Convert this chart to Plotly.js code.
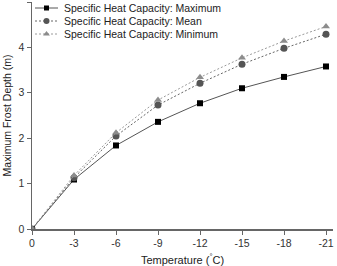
<!DOCTYPE html>
<html>
<head>
<meta charset="utf-8">
<script src="https://cdn.plot.ly/plotly-3.0.1.min.js"></script>
<style>
  html, body { margin: 0; padding: 0; background: #fff; }
  #chart { width: 337px; height: 266px; }
</style>
</head>
<body>
<div id="chart"></div>
<script>
// Temperature (°C) and maximum frost depth (m) for three specific heat capacity cases
const temperature = [0, -3, -6, -9, -12, -15, -18, -21];
const depthMaximum = [0, 1.09, 1.84, 2.36, 2.77, 3.10, 3.35, 3.58];
const depthMean    = [0, 1.13, 2.05, 2.73, 3.21, 3.63, 3.98, 4.29];
const depthMinimum = [0, 1.18, 2.12, 2.84, 3.34, 3.77, 4.14, 4.46];

const xTickVals = [0, -3, -6, -9, -12, -15, -18, -21];
const xTickText = ['0', '-3', '-6', '-9', '-12', '-15', '-18', '-21'];
const yTickVals = [0, 1, 2, 3, 4, 5];
const yTickText = ['0', '1', '2', '3', '4', '5'];

const seriesNames = [
  'Specific Heat Capacity: Maximum',
  'Specific Heat Capacity: Mean',
  'Specific Heat Capacity: Minimum'
];

const FONT = 'Liberation Sans, Arial, sans-serif';

// Per-series styling
const styles = [
  { line: { color: '#555555', width: 1, dash: 'solid' },   marker: { symbol: 'square', size: 6, color: '#000000' } },
  { line: { color: '#666666', width: 1, dash: '2px,2px' }, marker: { symbol: 'circle', size: 7, color: '#555555' } },
  { line: { color: '#9a9a9a', width: 1, dash: '2px,2px' }, marker: { symbol: 'triangle-up', size: 7, color: '#8c8c8c' } }
];
const seriesY = [depthMaximum, depthMean, depthMinimum];

const traces = seriesY.map((ys, i) => ({
  x: temperature, y: ys, name: seriesNames[i],
  mode: 'lines+markers', type: 'scatter',
  line: styles[i].line, marker: styles[i].marker,
  showlegend: false
}));

// Compact legend drawn on an overlay axis measured in pixels from the plot's top-left corner
const keyX0 = 3, keyX1 = 26, keyTextX = 30;
const keyRowY = [6, 19, 32];
const legendAnnotations = [];
seriesNames.forEach((name, i) => {
  traces.push({
    x: [keyX0, keyX1], y: [keyRowY[i], keyRowY[i]],
    xaxis: 'x2', yaxis: 'y2', mode: 'lines', type: 'scatter',
    line: styles[i].line, showlegend: false, hoverinfo: 'skip'
  });
  traces.push({
    x: [(keyX0 + keyX1) / 2], y: [keyRowY[i]],
    xaxis: 'x2', yaxis: 'y2', mode: 'markers', type: 'scatter',
    marker: Object.assign({}, styles[i].marker, { size: styles[i].marker.size - 1 }),
    showlegend: false, hoverinfo: 'skip'
  });
  legendAnnotations.push({
    xref: 'x2', yref: 'y2', x: keyTextX, y: keyRowY[i],
    xanchor: 'left', yanchor: 'middle', showarrow: false,
    text: name, font: { family: FONT, size: 10.5, color: '#222222' }
  });
});

const axisFont = { family: FONT, size: 10.5, color: '#333333' };

const layout = {
  width: 337, height: 266,
  margin: { l: 32, r: 4, t: 2, b: 37 },
  paper_bgcolor: '#ffffff', plot_bgcolor: '#ffffff',
  showlegend: false,
  annotations: legendAnnotations,
  xaxis: {
    range: [0, -21.5],
    tickvals: xTickVals, ticktext: xTickText,
    ticks: 'outside', ticklen: 4, tickwidth: 1, tickcolor: '#666666',
    showline: true, linecolor: '#666666', linewidth: 1.5,
    showgrid: false, zeroline: false,
    tickfont: axisFont,
    title: { text: 'Temperature (<sup>°</sup>C)', font: { family: FONT, size: 11, color: '#222222' }, standoff: 8 }
  },
  yaxis: {
    range: [0, 5],
    tickvals: yTickVals, ticktext: yTickText,
    ticks: 'outside', ticklen: 4, tickwidth: 1, tickcolor: '#666666',
    showline: true, linecolor: '#666666', linewidth: 1.5,
    showgrid: false, zeroline: false,
    tickfont: axisFont,
    title: { text: 'Maximum Frost Depth (m)', font: { family: FONT, size: 10.5, color: '#222222' }, standoff: 5 }
  },
  xaxis2: {
    overlaying: 'x', anchor: 'y2', range: [0, 301],
    visible: false, showgrid: false, zeroline: false, fixedrange: true
  },
  yaxis2: {
    overlaying: 'y', anchor: 'x2', range: [227, 0],
    visible: false, showgrid: false, zeroline: false, fixedrange: true
  }
};

Plotly.newPlot('chart', traces, layout, { displayModeBar: false, staticPlot: true });
</script>
</body>
</html>
